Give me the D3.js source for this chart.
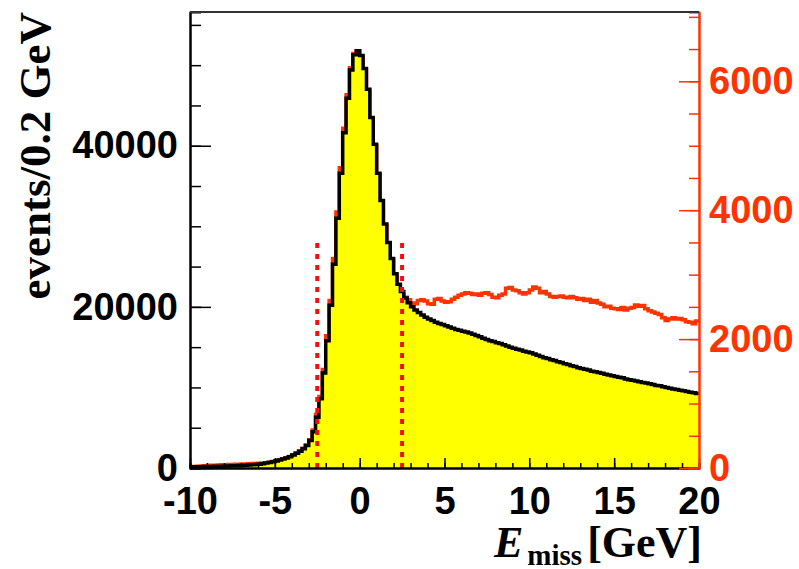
<!doctype html>
<html lang='en'>
<head>
    <meta charset='UTF-8'>
    <title>E miss</title>
    <style>
        body {
            margin: 0;
            background: #fff;
        }

        .tick line {
            stroke-width: 1.5;
        }

        .domain {
            stroke-width: 2;
        }
    </style>
</head>
<body>

<script src='https://d3js.org/d3.v7.min.js'></script>
<script>
  // histogram binning: -10 .. 20 GeV in 0.2 GeV bins
  const xMin = -10, xMax = 20, binWidth = 0.2

  // black histogram, events per bin (left axis), 5 bins per GeV
  const blackCounts = [
    150, 155, 160, 170, 175,
    185, 195, 205, 215, 230,
    240, 255, 270, 285, 300,
    320, 340, 365, 390, 420,
    480, 540, 610, 690, 780,
    880, 990, 1110, 1250, 1410,
    1600, 1820, 2080, 2400, 2800,
    3400, 4500, 6300, 8600, 11800,
    15800, 20200, 25300, 31000, 36600,
    41600, 45900, 49400, 51300, 51800,
    51200, 49600, 47000, 43500, 40200,
    36600, 33200, 30300, 28000, 26000,
    24100, 22800, 21900, 21100, 20500,
    20000, 19600, 19300, 19000, 18700,
    18500, 18300, 18100, 17950, 17800,
    17650, 17500, 17350, 17200, 17100,
    16980, 16880, 16750, 16600, 16450,
    16300, 16100, 15950, 15800, 15700,
    15550, 15450, 15300, 15150, 15000,
    14850, 14750, 14650, 14500, 14400,
    14300, 14150, 14000, 13850, 13700,
    13600, 13450, 13350, 13200, 13100,
    12950, 12850, 12700, 12600, 12450,
    12350, 12250, 12150, 12000, 11950,
    11850, 11750, 11650, 11550, 11450,
    11350, 11250, 11200, 11050, 10950,
    10900, 10800, 10700, 10600, 10550,
    10450, 10350, 10250, 10200, 10100,
    10000, 9900, 9800, 9750, 9650,
    9600, 9500, 9400, 9350, 9250
  ]

  // red histogram, events per bin (right axis)
  const redCounts = [
    20, 24, 28, 32, 35,
    38, 41, 44, 47, 50,
    52, 54, 56, 58, 60,
    62, 64, 66, 68, 70,
    73, 77, 82, 90, 100,
    112, 126, 142, 160, 180,
    205, 232, 265, 305, 355,
    440, 590, 830, 1110, 1530,
    2050, 2600, 3250, 3970, 4660,
    5270, 5790, 6210, 6430, 6470,
    6380, 6180, 5850, 5420, 5000,
    4550, 4120, 3770, 3480, 3230,
    2990, 2830, 2700, 2650, 2610,
    2560, 2550, 2600, 2610, 2590,
    2550, 2540, 2620, 2630, 2590,
    2570, 2580, 2620, 2650, 2680,
    2700, 2720, 2710, 2690, 2700,
    2680, 2710, 2720, 2690, 2650,
    2640, 2680, 2700, 2790, 2800,
    2760, 2750, 2720, 2700, 2720,
    2760, 2810, 2790, 2720, 2740,
    2700, 2660, 2650, 2660, 2670,
    2650, 2640, 2660, 2640, 2620,
    2630, 2600, 2620, 2570, 2600,
    2560, 2540, 2500, 2510, 2480,
    2470, 2460, 2490, 2450, 2480,
    2490, 2530, 2510, 2520, 2470,
    2440, 2420, 2400, 2380, 2330,
    2290, 2310, 2330, 2310, 2320,
    2300, 2270, 2260, 2240, 2280
  ]

  const xTicks = [-10, -5, 0, 5, 10, 15, 20]
  const leftTicks = [0, 20000, 40000]
  const rightTicks = [0, 2000, 4000, 6000]
  const leftMax = 56600
  const rightMax = 7075

  // cut window, dotted lines
  const cuts = [-2.5, 2.5]
  const cutTop = 28000

  const W = 799, H = 569
  const margin = {top: 12, right: 100, bottom: 101, left: 190}

  const red = '#ff3300'
  const sans = "'Liberation Sans', Arial, sans-serif"
  const serif = "'Liberation Serif', 'Times New Roman', serif"
  const plain = d => String(d)

  const x = d3.scaleLinear().domain([xMin, xMax]).range([margin.left, W - margin.right])
  const yL = d3.scaleLinear().domain([0, leftMax]).range([H - margin.bottom, margin.top])
  const yR = d3.scaleLinear().domain([0, rightMax]).range([H - margin.bottom, margin.top])

  const svg = d3.select('body').append('svg')
    .attr('width', W)
    .attr('height', H)

  svg.append('rect').attr('width', W).attr('height', H).attr('fill', '#fff')

  // bins -> step points (left edge, value), closing point at right edge
  const steps = counts => {
    const pts = counts.map((v, i) => [xMin + i * binWidth, v])
    pts.push([xMax, counts[counts.length - 1]])
    return pts
  }

  // red histogram drawn first, the filled one covers it
  svg.append('path')
    .datum(steps(redCounts))
    .attr('fill', 'none')
    .attr('stroke', red)
    .attr('stroke-width', 3.5)
    .attr('d', d3.line().x(d => x(d[0])).y(d => yR(d[1])).curve(d3.curveStepAfter))

  svg.append('path')
    .datum(steps(blackCounts))
    .attr('fill', '#ffff00')
    .attr('d', d3.area().x(d => x(d[0])).y0(yL(0)).y1(d => yL(d[1])).curve(d3.curveStepAfter))

  svg.append('path')
    .datum(steps(blackCounts))
    .attr('fill', 'none')
    .attr('stroke', '#000')
    .attr('stroke-width', 3.5)
    .attr('d', d3.line().x(d => x(d[0])).y(d => yL(d[1])).curve(d3.curveStepAfter))

  svg.selectAll('line.cut')
    .data(cuts)
    .enter()
    .append('line')
    .attr('class', 'cut')
    .attr('x1', d => x(d))
    .attr('x2', d => x(d))
    .attr('y1', yL(0))
    .attr('y2', yL(cutTop))
    .attr('stroke', '#ee1111')
    .attr('stroke-width', 4)
    .attr('stroke-dasharray', '5,6')

  //// Axes ////
  // minor ticks first, then the labelled ones
  svg.append('g')
    .attr('transform', `translate(0,${yL(0)})`)
    .call(d3.axisBottom(x).tickValues(d3.range(xMin, xMax + 1, 1)).tickSize(-5).tickFormat(''))
  const xAxis = svg.append('g')
    .attr('transform', `translate(0,${yL(0)})`)
    .call(d3.axisBottom(x).tickValues(xTicks).tickSize(-10).tickSizeOuter(0).tickPadding(19).tickFormat(plain))

  svg.append('g')
    .attr('transform', `translate(${margin.left},0)`)
    .call(d3.axisLeft(yL).tickValues(d3.range(0, leftMax, 5000)).tickSize(-11).tickFormat(''))
  const yAxis = svg.append('g')
    .attr('transform', `translate(${margin.left},0)`)
    .call(d3.axisLeft(yL).tickValues(leftTicks).tickSize(-21).tickSizeOuter(0).tickPadding(12).tickFormat(plain))

  const rMinor = svg.append('g')
    .attr('transform', `translate(${W - margin.right},0)`)
    .call(d3.axisRight(yR).tickValues(d3.range(0, rightMax, 500)).tickSize(-10).tickFormat(''))
  const rAxis = svg.append('g')
    .attr('transform', `translate(${W - margin.right},0)`)
    .call(d3.axisRight(yR).tickValues(rightTicks).tickSize(-20).tickSizeOuter(0).tickPadding(10).tickFormat(plain))

  svg.selectAll('.domain').attr('stroke', '#000')
  ;[rMinor, rAxis].forEach(a => a.selectAll('.domain, line').attr('stroke', red))

  ;[xAxis, yAxis, rAxis].forEach(a => a.selectAll('text')
    .attr('font-family', sans)
    .attr('font-weight', 'bold')
    .attr('font-size', 38))
  xAxis.selectAll('text').attr('fill', '#000')
  yAxis.selectAll('text').attr('fill', '#000')
  rAxis.selectAll('text').attr('fill', red)

  // top frame line
  svg.append('line')
    .attr('x1', margin.left).attr('x2', W - margin.right)
    .attr('y1', margin.top).attr('y2', margin.top)
    .attr('stroke', '#333')
    .attr('stroke-width', 2)

  //// Titles ////
  svg.append('text')
    .attr('transform', `translate(50,${margin.top}) rotate(-90)`)
    .attr('text-anchor', 'end')
    .attr('font-family', serif)
    .attr('font-weight', 'bold')
    .attr('font-size', 45)
    .text('events/0.2 GeV')

  const xt = svg.append('text')
    .attr('x', 702)
    .attr('y', 557)
    .attr('text-anchor', 'end')
    .attr('font-family', serif)
    .attr('font-weight', 'bold')
    .attr('font-size', 44)
  xt.append('tspan').attr('font-style', 'italic').text('E')
  xt.append('tspan').attr('font-size', 29).attr('dx', 4).attr('dy', 8).text('miss')
  xt.append('tspan').attr('dx', 5).attr('dy', -8).text('[GeV]')
</script>
</body>
</html>
